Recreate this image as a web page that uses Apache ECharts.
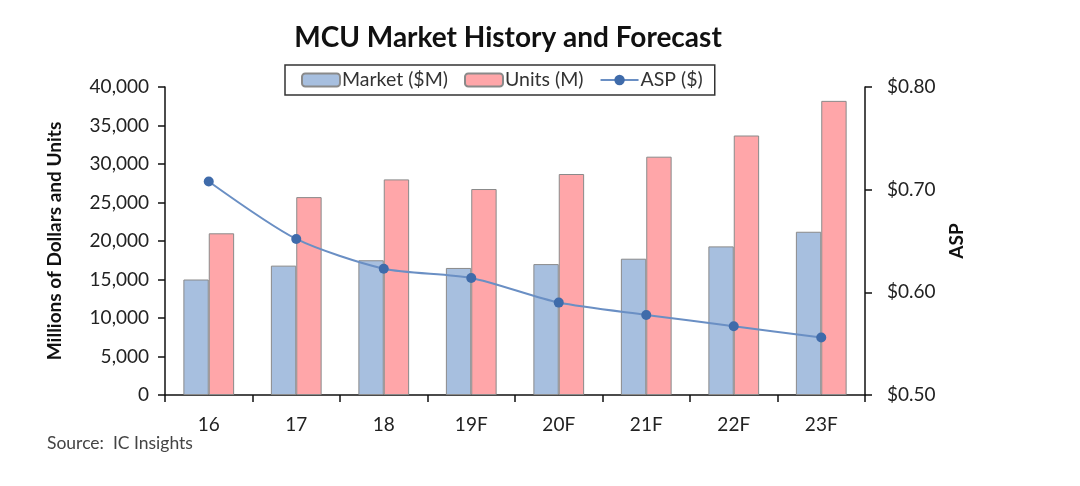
<!DOCTYPE html>
<html>
<head>
<meta charset="utf-8">
<script src="https://cdn.jsdelivr.net/npm/echarts@6/dist/echarts.min.js"></script>
<style>html,body{margin:0;padding:0;background:#fff;}#c{width:1080px;height:486px;}</style>
</head>
<body>
<div id="c"></div>
<script>
var categories = ['16', '17', '18', '19F', '20F', '21F', '22F', '23F'];
var market = [15000, 16800, 17500, 16500, 17000, 17700, 19300, 21200];
var units = [21000, 25700, 28000, 26750, 28700, 30950, 33700, 38200];
var asp = [0.708, 0.652, 0.623, 0.614, 0.590, 0.578, 0.567, 0.556];

var FONT = 'Lato';
var chart = echarts.init(document.getElementById('c'));
chart.setOption({
  backgroundColor: '#fff',
  textStyle: { fontFamily: FONT },
  title: {
    text: 'MCU Market History and Forecast',
    left: 503, top: 19, textAlign: 'center',
    textStyle: { fontFamily: FONT, fontSize: 28, fontWeight: 'bold', color: '#111' }
  },
  legend: {
    left: 285, top: 65,
    padding: [5, 12, 5, 16],
    borderColor: '#333', borderWidth: 1.5,
    itemWidth: 38, itemHeight: 13, itemGap: 16,
    textStyle: { fontFamily: FONT, fontSize: 19.5, color: '#333', padding: [0, 0, 0, -3] },
    data: ['Market ($M)', 'Units (M)', 'ASP ($)']
  },
  grid: { left: 165, right: 215, top: 87, bottom: 91, containLabel: false },
  xAxis: {
    type: 'category', data: categories,
    axisLine: { lineStyle: { color: '#111', width: 1.5 } },
    axisTick: { show: true, length: 7, lineStyle: { color: '#111', width: 1.5 } },
    axisLabel: { fontFamily: FONT, fontSize: 19, color: '#222', margin: 20 }
  },
  yAxis: [{
    type: 'value', min: 0, max: 40000, interval: 5000,
    name: 'Millions of Dollars and Units', nameLocation: 'middle', nameGap: 101,
    nameTextStyle: { fontFamily: FONT, fontSize: 19, fontWeight: 'bold', color: '#111' },
    axisLine: { show: true, lineStyle: { color: '#111', width: 1.5 } },
    axisTick: { show: true, length: 7, lineStyle: { color: '#111', width: 1.5 } },
    splitLine: { show: false },
    axisLabel: {
      fontFamily: FONT, fontSize: 19, color: '#222', margin: 16,
      formatter: function (v) { return v.toLocaleString('en-US'); }
    }
  }, {
    type: 'value', min: 0.5, max: 0.8, interval: 0.1, position: 'right',
    name: 'ASP', nameLocation: 'middle', nameGap: 82,
    nameTextStyle: { fontFamily: FONT, fontSize: 19, fontWeight: 'bold', color: '#111' },
    axisLine: { show: true, lineStyle: { color: '#111', width: 1.5 } },
    axisTick: { show: true, length: 7, lineStyle: { color: '#111', width: 1.5 } },
    splitLine: { show: false },
    axisLabel: {
      fontFamily: FONT, fontSize: 19, color: '#222', margin: 22,
      formatter: function (v) { return '$' + v.toFixed(2); }
    }
  }],
  graphic: [{
    type: 'text', left: 47, top: 434,
    style: { text: 'Source:  IC Insights', fontFamily: FONT, fontSize: 17.5, fill: '#444' }
  }],
  series: [{
    name: 'Market ($M)', type: 'bar', data: market, yAxisIndex: 0,
    barGap: '0%', barCategoryGap: '42%',
    itemStyle: { color: '#A7BFDF', borderColor: '#8A8A8A', borderWidth: 1 }
  }, {
    name: 'Units (M)', type: 'bar', data: units, yAxisIndex: 0,
    barGap: '0%', barCategoryGap: '42%',
    itemStyle: { color: '#FFA6A9', borderColor: '#8A8A8A', borderWidth: 1 }
  }, {
    name: 'ASP ($)', type: 'line', data: asp, yAxisIndex: 1,
    smooth: 0.25, symbol: 'circle', symbolSize: 10,
    lineStyle: { color: '#6A8FC4', width: 2 },
    itemStyle: { color: '#3F6BAA' }
  }]
});
</script>
</body>
</html>
